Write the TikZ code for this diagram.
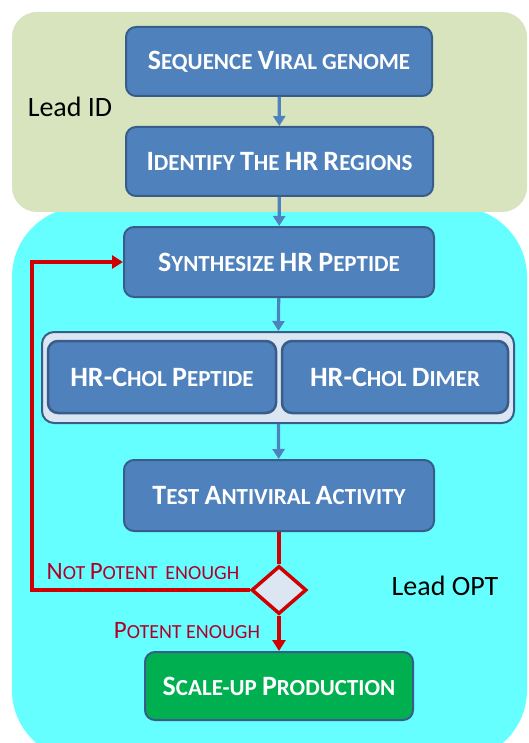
\documentclass[tikz,border=0pt]{standalone}
\usepackage{fontspec}
\setmainfont{Carlito}
\usetikzlibrary{shapes.geometric,arrows.meta}
\definecolor{leadid}{HTML}{D7E4BD}
\definecolor{leadopt}{HTML}{66FFFF}
\definecolor{boxblue}{HTML}{4F81BD}
\definecolor{boxedge}{HTML}{385D8A}
\definecolor{paleblue}{HTML}{DCE6F2}
\definecolor{okgreen}{HTML}{00B050}
\definecolor{loopred}{HTML}{D00000}
\definecolor{labelred}{HTML}{B0002A}
% small-caps style: a larger capital followed by smaller capitals
\newcommand\bigc[1]{{\fontsize{28}{28}\selectfont #1}}
\newcommand\midc[1]{{\fontsize{25}{25}\selectfont #1}}
\tikzset{
  stepbox/.style={draw=boxedge, line width=2pt, fill=boxblue, rounded corners=10pt,
    text=white, font=\fontsize{23}{26}\selectfont\bfseries, inner sep=0pt},
  groupbox/.style={draw=boxedge, line width=2pt, fill=paleblue, rounded corners=12pt},
  blueflow/.style={draw=boxblue, line width=3.2pt, -{Triangle[width=12pt,length=10pt]}},
  redflow/.style={draw=loopred, line width=3.2pt},
  redlabel/.style={text=labelred, font=\fontsize{20}{22}\selectfont, inner sep=0pt},
  zonelabel/.style={text=black, font=\fontsize{28}{30}\selectfont, inner sep=0pt}
}
\begin{document}
\begin{tikzpicture}[x=1pt,y=-1pt]
\useasboundingbox (0,0) rectangle (528,743);
% phase backgrounds
\fill[leadopt, rounded corners=70pt] (12,207) rectangle (527,760);
\fill[leadid, rounded corners=25pt] (12,12) rectangle (527,212);
\node[zonelabel] (lid) at (70,107) {Lead ID};
\node[zonelabel] (lopt) at (445,586) {Lead OPT};
% process steps
\node[stepbox, minimum width=306pt, minimum height=69pt] (seq) at (279,61.5)
  {\bigc{S}EQUENCE \bigc{V}IRAL GENOME};
\node[stepbox, minimum width=307pt, minimum height=69pt] (ident) at (279.5,161.5)
  {\bigc{I}DENTIFY \bigc{T}HE \bigc{HR} \bigc{R}EGIONS};
\node[stepbox, minimum width=310pt, minimum height=70pt] (synth) at (279,262)
  {\bigc{S}YNTHESIZE \bigc{HR} \bigc{P}EPTIDE};
\node[groupbox, minimum width=472pt, minimum height=91pt] (group) at (278,377.5) {};
\node[stepbox, line width=2.5pt, minimum width=228pt, minimum height=72pt] (chol) at (162,377)
  {\bigc{HR-C}HOL \bigc{P}EPTIDE};
\node[stepbox, line width=2.5pt, minimum width=226pt, minimum height=72pt] (dimer) at (395,377)
  {\bigc{HR-C}HOL \bigc{D}IMER};
\node[stepbox, minimum width=310pt, minimum height=71pt] (test) at (279,495.5)
  {\bigc{T}EST \bigc{A}NTIVIRAL \bigc{A}CTIVITY};
\node[diamond, draw=loopred, line width=3.5pt, fill=paleblue, aspect=1.15,
  minimum width=55pt, minimum height=48pt, inner sep=0pt] (dec) at (279,590) {};
\node[stepbox, fill=okgreen, minimum width=268pt, minimum height=68pt] (scale) at (279,686)
  {\bigc{S}CALE-UP \bigc{P}RODUCTION};
% main flow
\draw[blueflow] (seq) -- (ident);
\draw[blueflow] (ident) -- (synth);
\draw[blueflow] (synth) -- (group);
\draw[blueflow] (group) -- (test);
% decision and feedback loop
\coordinate (loop) at (32,0);
\draw[redflow] (test) -- (dec.north);
\draw[redflow, -{Triangle[width=13pt,length=11pt]}] (dec.south) -- (scale);
\draw[redflow, -{Triangle[width=13pt,length=11pt]}, line join=miter]
  (dec.west) -- (dec.west -| loop) |- (synth.west);
\node[redlabel] (notp) at (143,572) {\midc{N}OT \midc{P}OTENT \,ENOUGH};
\node[redlabel] (pot) at (187,631) {\midc{P}OTENT ENOUGH};
\end{tikzpicture}
\end{document}
